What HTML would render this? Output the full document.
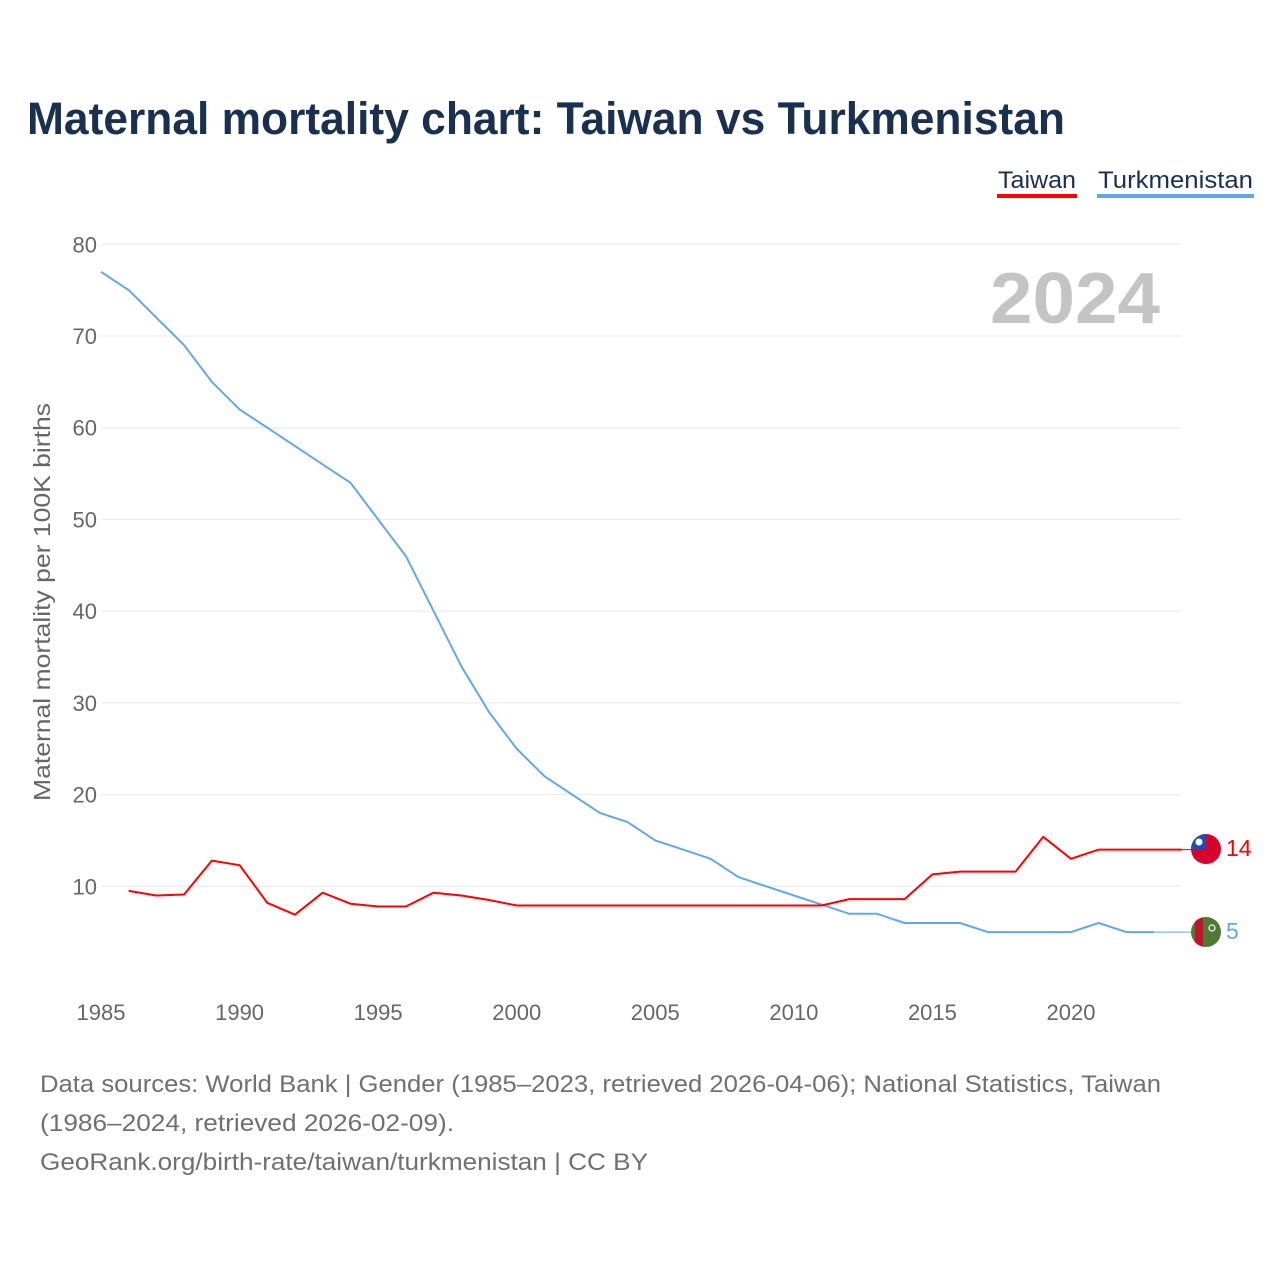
<!DOCTYPE html>
<html><head><meta charset="utf-8"><style>
body{margin:0;background:#fff;font-family:"Liberation Sans",sans-serif;}
#wrap{position:relative;width:1280px;height:1280px;overflow:hidden;}
</style></head><body>
<div id="wrap">
<svg id="chart" width="1280" height="1280" xmlns="http://www.w3.org/2000/svg">
<defs><clipPath id="tkc"><circle cx="1206" cy="932" r="15"/></clipPath><clipPath id="twc"><circle cx="1206" cy="849" r="15"/></clipPath></defs>
<text x="27" y="134" font-size="45" font-weight="bold" fill="#1a3050" textLength="1038" lengthAdjust="spacingAndGlyphs">Maternal mortality chart: Taiwan vs Turkmenistan</text>
<g>
<g>
<text x="998" y="188" font-size="24" fill="#1a3050" textLength="78" lengthAdjust="spacingAndGlyphs">Taiwan</text>
<rect x="997" y="194" width="80" height="4" fill="#ff0000"/>
</g>
<g>
<text x="1098" y="188" font-size="24" fill="#1a3050" textLength="155" lengthAdjust="spacingAndGlyphs">Turkmenistan</text>
<rect x="1097" y="194" width="157" height="4" fill="#62a8e8"/>
</g>
</g>
<text x="1160" y="323" font-size="72" font-weight="bold" fill="#c4c4c4" text-anchor="end" textLength="170" lengthAdjust="spacingAndGlyphs">2024</text>
<text transform="translate(50,602) rotate(-90)" font-size="23" fill="#666" text-anchor="middle" textLength="398" lengthAdjust="spacingAndGlyphs">Maternal mortality per 100K births</text>
<g id="grid"></g><g id="yticks"></g><g id="xticks"></g><g id="series"></g>
<g clip-path="url(#twc)">
<rect x="1190" y="833" width="32" height="32" fill="#d9002c"/>
<rect x="1190" y="833" width="16" height="16" fill="#1c4fb5"/>
<circle cx="1199" cy="842" r="3.5" fill="#fff"/>
</g>
<g clip-path="url(#tkc)">
<rect x="1190" y="916" width="32" height="32" fill="#4e7a33"/>
<rect x="1195" y="916" width="8" height="32" fill="#c8102e"/>
<circle cx="1212" cy="928" r="3" fill="none" stroke="#fff" stroke-width="1.2"/>
</g>
<text x="1226" y="856" font-size="23" fill="#ff0000">14</text>
<text x="1226" y="939" font-size="23" fill="#62a8e8">5</text>
<g font-size="24" fill="#707070">
<text x="40" y="1092" textLength="1121" lengthAdjust="spacingAndGlyphs">Data sources: World Bank | Gender (1985–2023, retrieved 2026-04-06); National Statistics, Taiwan</text>
<text x="40" y="1131" textLength="414" lengthAdjust="spacingAndGlyphs">(1986–2024, retrieved 2026-02-09).</text>
<text x="40" y="1170" textLength="608" lengthAdjust="spacingAndGlyphs">GeoRank.org/birth-rate/taiwan/turkmenistan | CC BY</text>
</g>
</svg>
</div>
<script>
const yTicks=[10,20,30,40,50,60,70,80];
const xTicks=[1985,1990,1995,2000,2005,2010,2015,2020];
const tkmYears=[1985,1986,1987,1988,1989,1990,1991,1992,1993,1994,1995,1996,1997,1998,1999,2000,2001,2002,2003,2004,2005,2006,2007,2008,2009,2010,2011,2012,2013,2014,2015,2016,2017,2018,2019,2020,2021,2022,2023];
const tkmValues=[77,75,72,69,65,62,60,58,56,54,50,46,40,34,29,25,22,20,18,17,15,14,13,11,10,9,8,7,7,6,6,6,5,5,5,5,6,5,5];
const twnYears=[1986,1987,1988,1989,1990,1991,1992,1993,1994,1995,1996,1997,1998,1999,2000,2001,2002,2003,2004,2005,2006,2007,2008,2009,2010,2011,2012,2013,2014,2015,2016,2017,2018,2019,2020,2021,2022,2023,2024];
const twnValues=[9.5,9.0,9.1,12.8,12.3,8.2,6.9,9.3,8.1,7.8,7.8,9.3,9.0,8.5,7.9,7.9,7.9,7.9,7.9,7.9,7.9,7.9,7.9,7.9,7.9,7.9,8.6,8.6,8.6,11.3,11.6,11.6,11.6,15.4,13.0,14.0,14.0,14.0,14.0];
const NS="http://www.w3.org/2000/svg";
const xS=y=>101+(y-1985)*(970/35);
const yS=v=>978-v*(642/70);
function mk(tag,attrs,parent){const e=document.createElementNS(NS,tag);for(const k in attrs)e.setAttribute(k,attrs[k]);parent.appendChild(e);return e;}
const grid=document.getElementById('grid'),yt=document.getElementById('yticks'),xt=document.getElementById('xticks'),ser=document.getElementById('series');
yTicks.forEach(v=>{
 const l=mk('line',{x1:101,x2:1181,y1:yS(v),y2:yS(v),stroke:'#e8e8e8','stroke-width':1},grid);
 
 
 const t=mk('text',{x:97,y:yS(v)+8,'font-size':22,fill:'#666','text-anchor':'end'},yt);t.textContent=v;
 
 
});
xTicks.forEach(y=>{
 const t=mk('text',{x:xS(y),y:1020,'font-size':22,fill:'#666','text-anchor':'middle'},xt);t.textContent=y;
 
 
});
function line(years,vals,color,name,endX){
 const pts=years.map((y,i)=>xS(y).toFixed(1)+','+yS(vals[i]).toFixed(1));
 const lastY=yS(vals[vals.length-1]);
 const c=mk('line',{x1:xS(years[years.length-1]),x2:endX,y1:lastY,y2:lastY,stroke:color,'stroke-width':1},ser);
 
 
 const p=mk('polyline',{points:pts.join(' '),fill:'none',stroke:color,'stroke-width':2,'stroke-linejoin':'round'},ser);
 
 
}
line(tkmYears,tkmValues,'#62a8e8','turkmenistan',1192);
line(twnYears,twnValues,'#ff0000','taiwan',1192);
</script>
</body></html>
